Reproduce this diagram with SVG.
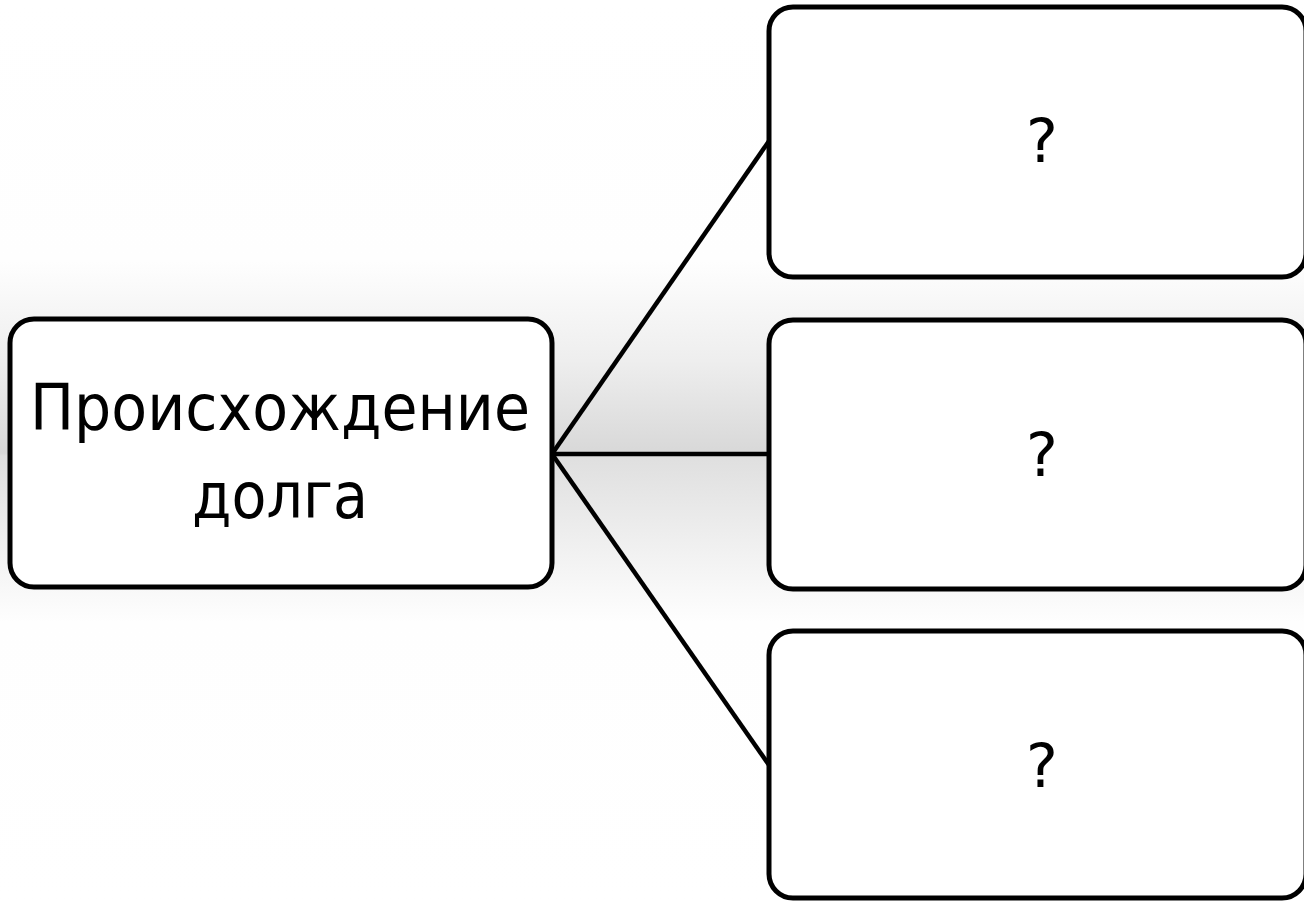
<svg xmlns="http://www.w3.org/2000/svg" width="1304" height="901" viewBox="0 0 1304 901">
<defs>
<linearGradient id="bg" x1="0" y1="0" x2="0" y2="901" gradientUnits="userSpaceOnUse">
<stop offset="0" stop-color="#ffffff"/>
<stop offset="0.29" stop-color="#fefefe"/>
<stop offset="0.4" stop-color="#eeeeee"/>
<stop offset="0.503" stop-color="#d8d8d8"/>
<stop offset="0.506" stop-color="#dfdfdf"/>
<stop offset="0.6" stop-color="#efefef"/>
<stop offset="0.69" stop-color="#fefefe"/>
<stop offset="1" stop-color="#ffffff"/>
</linearGradient>
<style>
.box{fill:#fff;stroke:#000;stroke-width:5}
.lbl{font-family:"DejaVu Sans",Verdana,sans-serif;fill:#000;text-anchor:middle}
.con{stroke:#000;stroke-width:4.5;fill:none}
</style>
</defs>
<rect x="0" y="0" width="1304" height="901" fill="url(#bg)"/>
<g id="connectors">
<line class="con" x1="552" y1="454" x2="769" y2="141"/>
<line class="con" x1="552" y1="454" x2="769" y2="454"/>
<line class="con" x1="552" y1="454" x2="769" y2="765"/>
</g>
<g id="root">
<rect class="box" x="10" y="319" width="542" height="268" rx="24"/>
<text class="lbl" x="280" y="430" font-size="64" textLength="500" lengthAdjust="spacingAndGlyphs">Происхождение</text>
<text class="lbl" x="280" y="518" font-size="64" textLength="176" lengthAdjust="spacingAndGlyphs">долга</text>
</g>
<g id="q1">
<rect class="box" x="769" y="7" width="537" height="270" rx="24"/>
<text class="lbl" x="1042" y="162" font-size="60">?</text>
</g>
<g id="q2">
<rect class="box" x="769" y="320" width="537" height="269" rx="24"/>
<text class="lbl" x="1042" y="476" font-size="60">?</text>
</g>
<g id="q3">
<rect class="box" x="769" y="631" width="537" height="267" rx="24"/>
<text class="lbl" x="1042" y="787" font-size="60">?</text>
</g>
</svg>
